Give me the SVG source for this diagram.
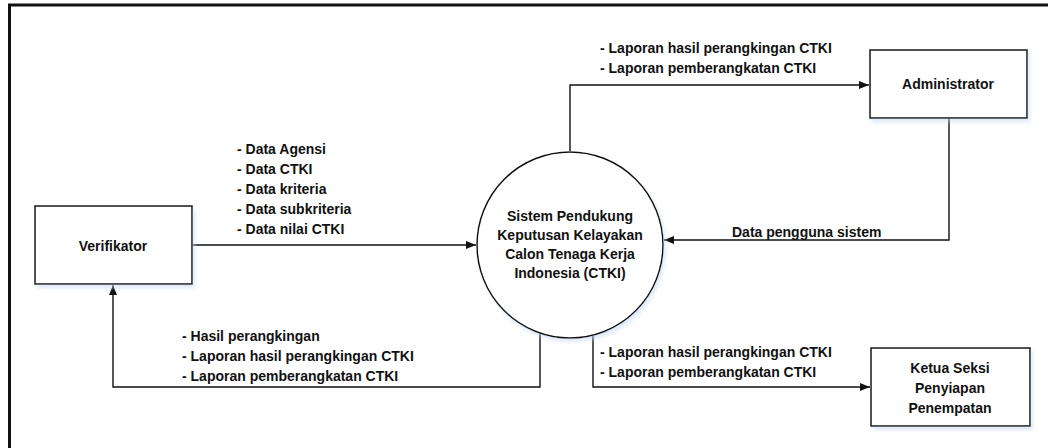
<svg xmlns="http://www.w3.org/2000/svg" width="1048" height="448" viewBox="0 0 1048 448">
<style>
.t{font-family:"Liberation Sans",Arial,sans-serif;font-weight:bold;font-size:14px;fill:#111}
.c{text-anchor:middle}
.box{fill:#fff;stroke:#222;stroke-width:1.6}
.ln{fill:none;stroke:#111;stroke-width:1.4}
</style>
<defs>
<marker id="ah" viewBox="0 0 10 10" refX="10" refY="5" markerWidth="10" markerHeight="10" markerUnits="userSpaceOnUse" orient="auto">
<path d="M0,1 L10,5 L0,9 Z" fill="#111"/>
</marker>
<filter id="sh" x="-10%" y="-10%" width="125%" height="130%">
<feDropShadow dx="2" dy="3" stdDeviation="2" flood-color="#c8d8f0" flood-opacity="0.6"/>
</filter>
</defs>
<rect width="1048" height="448" fill="#fff"/>
<path d="M9.5,448 V5 H1048" fill="none" stroke="#111" stroke-width="3"/>
<g id="connectors">
<path class="ln" d="M192,245 H476" marker-end="url(#ah)"/>
<path class="ln" d="M540,332 V387 H113 V285" marker-end="url(#ah)"/>
<path class="ln" d="M570,151 V85 H869" marker-end="url(#ah)"/>
<path class="ln" d="M949,118 V240 H664" marker-end="url(#ah)"/>
<path class="ln" d="M593,334 V387 H870" marker-end="url(#ah)"/>
</g>
<g id="labels">
<text class="t" x="237" y="154">- Data Agensi</text>
<text class="t" x="237" y="174">- Data CTKI</text>
<text class="t" x="237" y="194">- Data kriteria</text>
<text class="t" x="237" y="214">- Data subkriteria</text>
<text class="t" x="237" y="234">- Data nilai CTKI</text>
<text class="t" x="182" y="341">- Hasil perangkingan</text>
<text class="t" x="182" y="361">- Laporan hasil perangkingan CTKI</text>
<text class="t" x="182" y="381">- Laporan pemberangkatan CTKI</text>
<text class="t" x="600" y="53">- Laporan hasil perangkingan CTKI</text>
<text class="t" x="600" y="73">- Laporan pemberangkatan CTKI</text>
<text class="t" x="732" y="237">Data pengguna sistem</text>
<text class="t" x="600" y="357">- Laporan hasil perangkingan CTKI</text>
<text class="t" x="600" y="377">- Laporan pemberangkatan CTKI</text>
</g>
<g id="verifikator">
<rect class="box" x="35" y="206" width="157" height="78" filter="url(#sh)"/>
<text class="t c" x="113" y="251">Verifikator</text>
</g>
<g id="sistem">
<circle cx="570" cy="245" r="93" fill="#fff" stroke="#111" stroke-width="1.5" filter="url(#sh)"/>
<text class="t c" x="570" y="221">Sistem Pendukung</text>
<text class="t c" x="570" y="240">Keputusan Kelayakan</text>
<text class="t c" x="570" y="259">Calon Tenaga Kerja</text>
<text class="t c" x="570" y="278">Indonesia (CTKI)</text>
</g>
<g id="administrator">
<rect class="box" x="870" y="50" width="157" height="68" filter="url(#sh)"/>
<text class="t c" x="948" y="89">Administrator</text>
</g>
<g id="ketua">
<rect class="box" x="871" y="348" width="159" height="78" filter="url(#sh)"/>
<text class="t c" x="950" y="373">Ketua Seksi</text>
<text class="t c" x="950" y="393">Penyiapan</text>
<text class="t c" x="950" y="413">Penempatan</text>
</g>
</svg>
